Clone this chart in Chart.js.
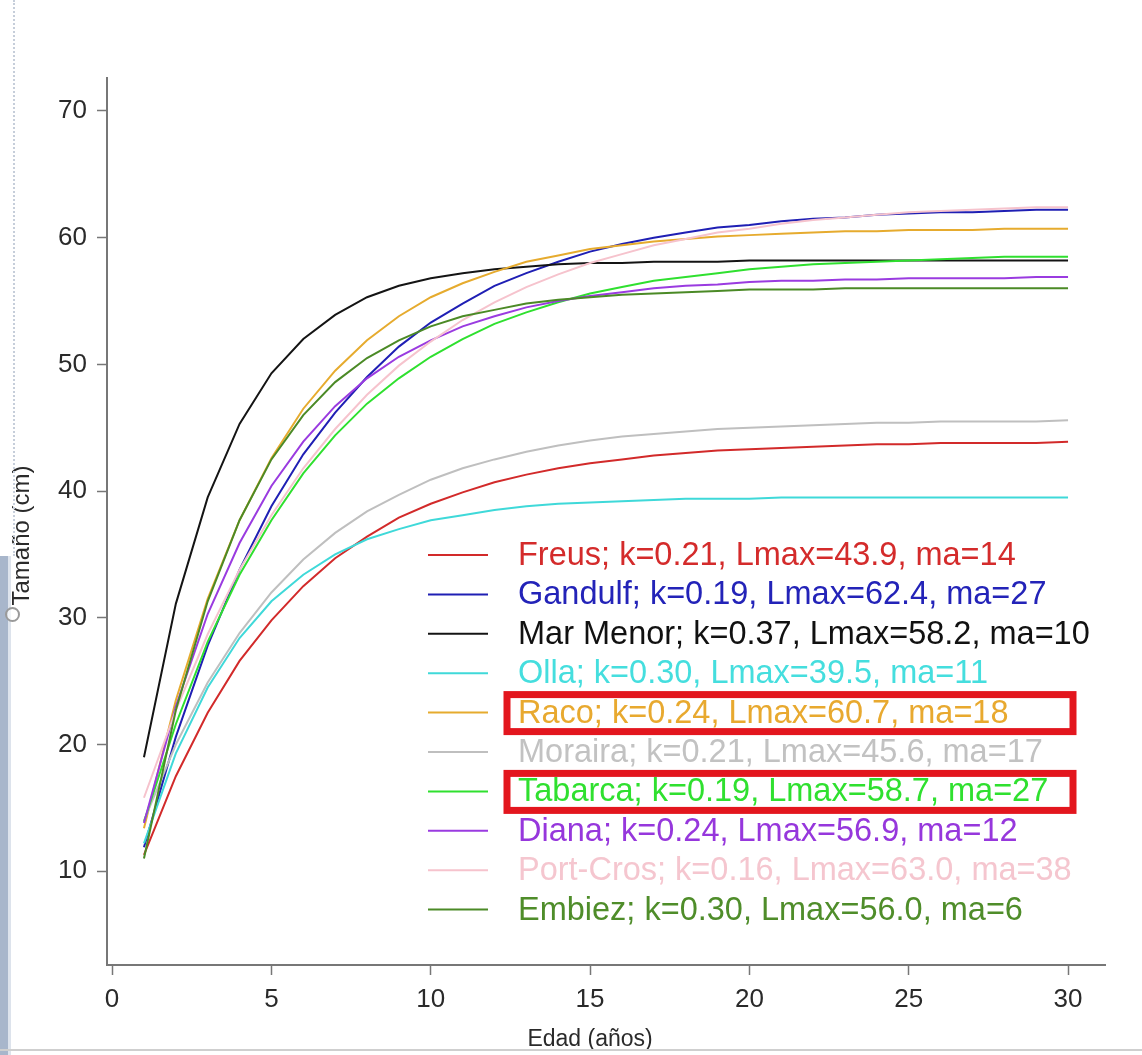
<!DOCTYPE html>
<html>
<head>
<meta charset="utf-8">
<title>Crecimiento por localidad</title>
<script src="https://cdn.jsdelivr.net/npm/chart.js@4.4.1/dist/chart.umd.min.js"></script>
<style>
  html, body { margin: 0; padding: 0; background: #fff; }
  #wrap { position: relative; width: 1142px; height: 1055px; overflow: hidden; background: #fff; }
  #wrap canvas { position: absolute; left: 0; top: 0; }
  .edge-dots { position: absolute; left: 13px; top: 0; height: 556px; border-left: 2px dotted #c6ceda; }
  .edge-bar { position: absolute; left: 0; top: 556px; width: 8px; height: 499px; background: #a8b6cb; border-right: 3px solid #dde3ec; }
  .edge-ring { position: absolute; left: 5px; top: 607px; width: 11px; height: 11px; border: 2px solid #9a9a9a; border-radius: 50%; background: rgba(255,255,255,0.6); }
  .edge-bottom { position: absolute; left: 0; top: 1049px; width: 100%; height: 2px; background: #cfcfcf; }
</style>
</head>
<body>
<div id="wrap">
  <canvas id="chart" width="1142" height="1055"></canvas>
  <div class="edge-dots"></div>
  <div class="edge-bar"></div>
  <div class="edge-ring"></div>
  <div class="edge-bottom"></div>
</div>
<script>
// Edad (años)
const ages = [1,2,3,4,5,6,7,8,9,10,11,12,13,14,15,16,17,18,19,20,21,22,23,24,25,26,27,28,29,30];

// Tamaño (cm) por localidad
const freus    = [11.3,17.5,22.5,26.6,29.8,32.5,34.7,36.4,37.9,39.0,39.9,40.7,41.3,41.8,42.2,42.5,42.8,43.0,43.2,43.3,43.4,43.5,43.6,43.7,43.7,43.8,43.8,43.8,43.8,43.9];
const gandulf  = [11.9,20.6,27.8,33.8,38.8,42.9,46.2,49.0,51.4,53.3,54.8,56.2,57.2,58.1,58.9,59.5,60.0,60.4,60.8,61.0,61.3,61.5,61.6,61.8,61.9,62.0,62.0,62.1,62.2,62.2];
const marMenor = [19.0,31.1,39.5,45.3,49.3,52.0,53.9,55.3,56.2,56.8,57.2,57.5,57.7,57.9,58.0,58.0,58.1,58.1,58.1,58.2,58.2,58.2,58.2,58.2,58.2,58.2,58.2,58.2,58.2,58.2];
const olla     = [12.2,19.3,24.5,28.4,31.3,33.4,35.0,36.2,37.0,37.7,38.1,38.5,38.8,39.0,39.1,39.2,39.3,39.4,39.4,39.4,39.5,39.5,39.5,39.5,39.5,39.5,39.5,39.5,39.5,39.5];
const raco     = [13.4,23.5,31.5,37.7,42.6,46.5,49.5,51.9,53.8,55.3,56.4,57.3,58.1,58.6,59.1,59.4,59.7,59.9,60.1,60.2,60.3,60.4,60.5,60.5,60.6,60.6,60.6,60.7,60.7,60.7];
const moraira  = [14.0,20.0,24.9,28.8,32.0,34.6,36.7,38.4,39.7,40.9,41.8,42.5,43.1,43.6,44.0,44.3,44.5,44.7,44.9,45.0,45.1,45.2,45.3,45.4,45.4,45.5,45.5,45.5,45.5,45.6];
const tabarca  = [13.9,21.6,28.1,33.4,37.7,41.4,44.4,46.9,48.9,50.6,52.0,53.2,54.1,54.9,55.6,56.1,56.6,56.9,57.2,57.5,57.7,57.9,58.0,58.1,58.2,58.3,58.4,58.5,58.5,58.5];
const diana    = [13.8,23.0,30.3,35.9,40.4,43.9,46.7,48.9,50.6,51.9,53.0,53.8,54.5,55.0,55.4,55.7,56.0,56.2,56.3,56.5,56.6,56.6,56.7,56.7,56.8,56.8,56.8,56.8,56.9,56.9];
const portCros = [15.8,22.7,28.7,33.8,38.1,41.8,44.9,47.6,49.9,51.8,53.5,54.9,56.1,57.1,58.0,58.7,59.4,59.9,60.4,60.7,61.1,61.4,61.6,61.8,62.0,62.1,62.2,62.3,62.4,62.4];
const embiez   = [11.0,22.7,31.3,37.7,42.5,46.0,48.6,50.5,51.9,53.0,53.8,54.3,54.8,55.1,55.3,55.5,55.6,55.7,55.8,55.9,55.9,55.9,56.0,56.0,56.0,56.0,56.0,56.0,56.0,56.0];

// Parámetros mostrados en la leyenda
const sites   = ['Freus','Gandulf','Mar Menor','Olla','Raco','Moraira','Tabarca','Diana','Port-Cros','Embiez'];
const kVals   = ['0.21','0.19','0.37','0.30','0.24','0.21','0.19','0.24','0.16','0.30'];
const lmaxVals= ['43.9','62.4','58.2','39.5','60.7','45.6','58.7','56.9','63.0','56.0'];
const maVals  = ['14','27','10','11','18','17','27','12','38','6'];
const seriesValues = [freus, gandulf, marMenor, olla, raco, moraira, tabarca, diana, portCros, embiez];

const lineColors = ['#d22a2a','#1f1fb4','#141414','#3fd9d9','#e6ab2e','#bfbfbf','#2fe02f','#9a3be0','#f6c3cd','#4b8a26'];
const textColors = ['#d42b2b','#2323b8','#111111','#45dede','#e8a92f','#c2c2c2','#2fe02f','#9637dc','#f5c6cf','#4f8d2a'];

// Entradas destacadas con recuadro
const highlighted = ['Raco','Tabarca'];

// Ejes
const xTicks = [0,5,10,15,20,25,30];
const yTicks = [10,20,30,40,50,60,70];
const xTitle = 'Edad (años)';
const yTitle = 'Tamaño (cm)';

const FONT = '"Liberation Sans", Arial, Helvetica, sans-serif';

const datasets = sites.map((name, i) => ({
  label: `${name}; k=${kVals[i]}, Lmax=${lmaxVals[i]}, ma=${maVals[i]}`,
  site: name,
  data: ages.map((a, j) => ({ x: a, y: seriesValues[i][j] })),
  borderColor: lineColors[i],
  textColor: textColors[i],
  borderWidth: 2,
  pointRadius: 0,
  tension: 0,
  fill: false,
  order: sites.length - i
}));

// Leyenda dentro del área de trazado
const inlineLegend = {
  id: 'inlineLegend',
  afterDraw(chart) {
    const { ctx, chartArea } = chart;
    const lineX = chartArea.left + 321;
    const lineLen = 60;
    const textX = lineX + 90;
    const rowY0 = chartArea.top + 477;
    const rowStep = 39.4;
    ctx.save();
    ctx.font = `32.5px ${FONT}`;
    ctx.textBaseline = 'middle';
    ctx.textAlign = 'left';
    chart.data.datasets.forEach((ds, i) => {
      const y = rowY0 + i * rowStep;
      ctx.strokeStyle = ds.borderColor;
      ctx.lineWidth = 2;
      ctx.beginPath();
      ctx.moveTo(lineX, y);
      ctx.lineTo(lineX + lineLen, y);
      ctx.stroke();
      ctx.fillStyle = ds.textColor;
      ctx.fillText(ds.label, textX, y + 1);
      if (highlighted.includes(ds.site)) {
        ctx.strokeStyle = '#e3161e';
        ctx.lineWidth = 7;
        ctx.strokeRect(textX - 11, y - 18, 566, 37);
      }
    });
    ctx.restore();
  }
};

// Títulos de los ejes: centrados sobre el rango de marcas
const axisTitles = {
  id: 'axisTitles',
  afterDraw(chart) {
    const { ctx, chartArea } = chart;
    const xs = chart.scales.x;
    ctx.save();
    ctx.fillStyle = '#2a2a2a';
    ctx.font = `23px ${FONT}`;
    ctx.textAlign = 'center';
    ctx.textBaseline = 'middle';
    const xMid = (xs.getPixelForValue(xTicks[0]) + xs.getPixelForValue(xTicks[xTicks.length - 1])) / 2;
    ctx.fillText(xTitle, xMid, chartArea.bottom + 75);
    ctx.translate(chartArea.left - 85, (chartArea.top + chartArea.bottom) / 2 + 14);
    ctx.rotate(-Math.PI / 2);
    ctx.font = `24px ${FONT}`;
    ctx.fillText(yTitle, 0, 0);
    ctx.restore();
  }
};

new Chart(document.getElementById('chart'), {
  type: 'line',
  data: { datasets },
  plugins: [inlineLegend, axisTitles],
  options: {
    responsive: false,
    animation: false,
    devicePixelRatio: 1,
    layout: { padding: { top: 78, right: 37, left: 0, bottom: 0 } },
    plugins: { legend: { display: false }, tooltip: { enabled: false } },
    scales: {
      x: {
        type: 'linear',
        min: -0.16,
        max: 31.16,
        afterBuildTicks: axis => { axis.ticks = xTicks.map(v => ({ value: v })); },
        afterFit: axis => { axis.height = 90; },
        grid: { display: true, drawOnChartArea: false, drawTicks: true, tickLength: 10, tickColor: '#777', tickWidth: 1.5 },
        border: { display: true, color: '#777', width: 2 },
        ticks: { color: '#2a2a2a', font: { family: FONT, size: 26 }, padding: 9, maxRotation: 0 },
        title: { display: false }
      },
      y: {
        type: 'linear',
        min: 2.6,
        max: 72.6,
        afterBuildTicks: axis => { axis.ticks = yTicks.map(v => ({ value: v })); },
        afterFit: axis => { axis.width = 107; },
        grid: { display: true, drawOnChartArea: false, drawTicks: true, tickLength: 10, tickColor: '#777', tickWidth: 1.5 },
        border: { display: true, color: '#777', width: 2 },
        ticks: { color: '#2a2a2a', font: { family: FONT, size: 26 }, padding: 10 },
        title: { display: false }
      }
    }
  }
});
</script>
</body>
</html>
